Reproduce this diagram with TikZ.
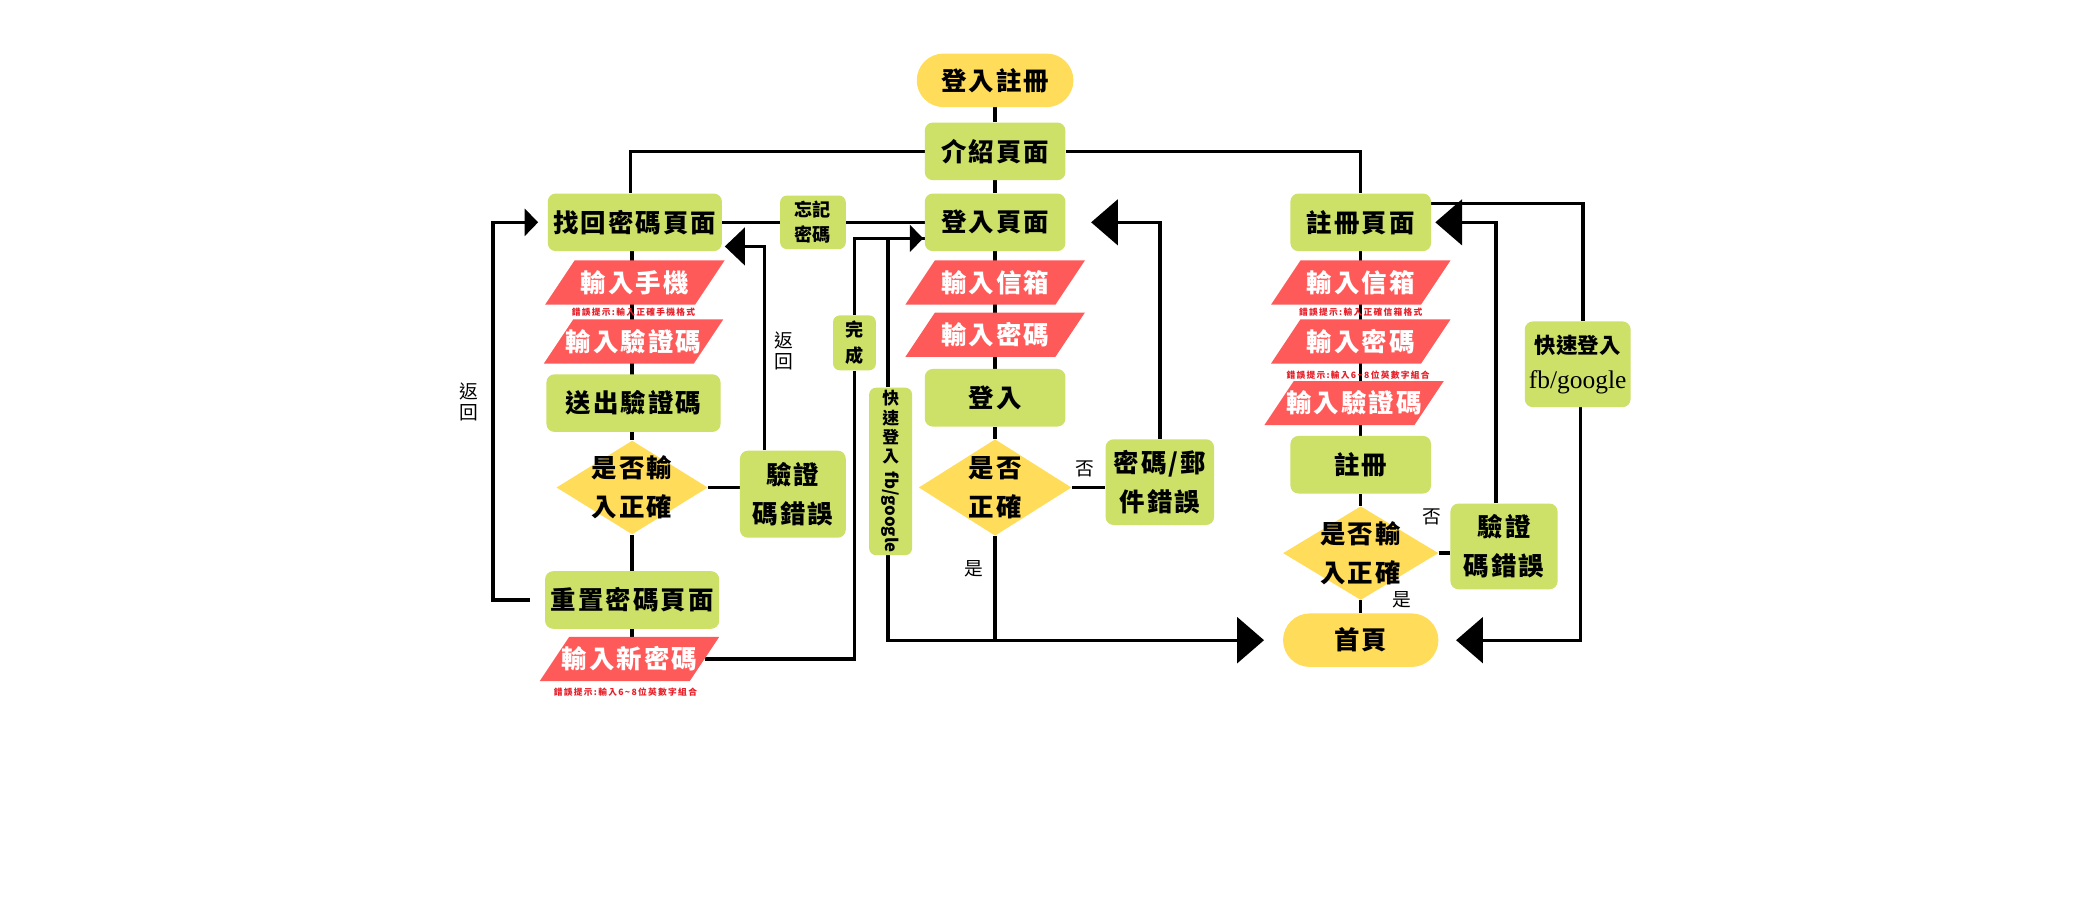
\documentclass[tikz,border=0pt]{standalone}
\usepackage{fontspec}
\usepackage{graphicx}
\usetikzlibrary{arrows.meta,shapes.geometric,backgrounds}
\newfontfamily\cjk{Noto Sans CJK TC}[LetterSpace=8]
\newfontfamily\cjksm{Noto Sans CJK TC}[LetterSpace=15]
\newfontfamily\cjkplain{Noto Sans CJK TC}
\newfontfamily\latserif{Liberation Serif}
\definecolor{boxgreen}{RGB}{205,225,105}
\definecolor{parared}{RGB}{255,90,90}
\definecolor{pillyellow}{RGB}{255,221,90}
\definecolor{hintred}{RGB}{232,30,40}
\newcommand\paranode[4]{%
  \fill[parared] ({#2-67},{#3+16.5}) -- ({#2+45},{#3+16.5}) -- ({#2+67},{#3-16.5}) -- ({#2-45},{#3-16.5}) -- cycle;
  \node[paratext] (#1) at (#2,#3) {#4};}
\tikzset{
  bigfont/.style={font=\cjk\bfseries\fontsize{19pt}{29pt}\selectfont},
  gbox/.style={rectangle, rounded corners=6pt, fill=boxgreen, minimum width=105pt, minimum height=43pt, inner sep=0pt, align=center, bigfont},
  pill/.style={rectangle, rounded corners=20pt, fill=pillyellow, minimum width=117pt, minimum height=40pt, inner sep=0pt, bigfont},
  paratext/.style={rectangle, minimum width=112pt, minimum height=33pt, inner sep=0pt, text=white, bigfont},
  dia/.style={diamond, fill=pillyellow, minimum width=114pt, minimum height=72pt, inner sep=0pt},
  dtext/.style={align=center, inner sep=0pt, bigfont},
  hint/.style={text=hintred, inner sep=0pt, font=\cjksm\bfseries\fontsize{6.5pt}{8pt}\selectfont},
  lbl/.style={inner sep=0pt, align=center, font=\cjkplain\fontsize{14pt}{16pt}\selectfont},
  smallbox/.style={gbox, rounded corners=5pt, font=\cjkplain\bfseries\fontsize{13.5pt}{19pt}\selectfont},
  conn/.style={line width=2.5pt, draw=black},
  bigarr/.style={conn, -{Triangle[length=20pt,width=34pt]}},
  medarr/.style={conn, -{Triangle[length=15pt,width=28pt]}},
  smallarr/.style={conn, -{Triangle[length=10pt,width=20pt]}},
}
\begin{document}
\begin{tikzpicture}[x=1pt,y=-1pt]
\useasboundingbox (0,0) rectangle (1568,672);
\begin{pgfonlayer}{background}
\fill[white] (0,0) rectangle (1568,672);
\end{pgfonlayer}

% centre column
\node[pill] (reg) at (743,60) {登入註冊};
\node[gbox] (intro) at (743,113) {介紹頁面};
\node[gbox] (login) at (743,166) {登入頁面};
\paranode{lmail}{743}{211}{輸入信箱}
\paranode{lpw}{743}{250}{輸入密碼}
\node[gbox] (loginbtn) at (743,297) {登入};
\node[dia, label={[dtext]center:是否\\正確}] (dia1) at (743,364) {};
\node[gbox, minimum width=81pt, minimum height=64pt] (pwerr) at (866,360) {密碼/郵\\件錯誤};
\node[lbl] (no1) at (810,350) {否};
\node[lbl] (yes1) at (727,425) {是};

% left column
\node[gbox, minimum width=130pt] (findpw) at (474,166) {找回密碼頁面};
\node[smallbox, minimum width=49pt, minimum height=40pt] (forget) at (607,166) {忘記\\密碼};
\paranode{phone}{474}{211}{輸入手機}
\node[hint] (h1) at (473,233) {錯誤提示:輸入正確手機格式};
\paranode{vcode}{473}{255}{輸入驗證碼}
\node[gbox, minimum width=130pt] (send) at (473,301) {送出驗證碼};
\node[dia, minimum width=113pt, minimum height=70pt, label={[dtext]center:是否輸\\入正確}] (dia2) at (472,364) {};
\node[gbox, minimum width=79pt, minimum height=65pt] (vcerr1) at (592,369) {驗證\\碼錯誤};
\node[gbox, minimum width=130pt] (reset) at (472,448) {重置密碼頁面};
\paranode{newpw}{470}{492}{輸入新密碼}
\node[hint] (h2) at (467,517) {錯誤提示:輸入6\string~8位英數字組合};
\node[lbl] (back1) at (585,262) {返\\回};
\node[lbl] (back2) at (350,300) {返\\回};
\coordinate (lb) at (368,300);

% middle vertical boxes
\node[smallbox, minimum width=32pt, minimum height=41pt] (done) at (638,256) {完\\成};
\node[gbox, rounded corners=5pt, minimum width=32pt, minimum height=125pt, font=\cjkplain\bfseries\fontsize{12.5pt}{14.5pt}\selectfont] (quick1) at (665,352) {快\\速\\登\\入\\[-8pt]\rotatebox{-90}{fb/google}};

% right column
\node[gbox] (regpage) at (1016,166) {註冊頁面};
\paranode{rmail}{1016}{211}{輸入信箱}
\node[hint] (h3) at (1016,233) {錯誤提示:輸入正確信箱格式};
\paranode{rpw}{1016}{255}{輸入密碼}
\node[hint] (h4) at (1014,280) {錯誤提示:輸入6\string~8位英數字組合};
\paranode{rcode}{1011}{301}{輸入驗證碼}
\node[gbox] (regbtn) at (1016,347) {註冊};
\node[dia, minimum width=116pt, minimum height=70pt, label={[dtext]center:是否輸\\入正確}] (dia3) at (1016,413) {};
\node[gbox, minimum width=80pt, minimum height=64pt] (vcerr2) at (1123,408) {驗證\\碼錯誤};
\node[lbl] (no3) at (1069,386) {否};
\node[lbl] (yes3) at (1047,448) {是};
\node[pill, minimum width=116pt] (home) at (1016,478) {首頁};
\node[gbox, minimum width=79pt, minimum height=64pt, font=\cjkplain\bfseries\fontsize{16pt}{26pt}\selectfont] (quick2) at (1178,272) {快速登入\\{\latserif\mdseries\fontsize{19pt}{26pt}\selectfont fb/google}};

\begin{pgfonlayer}{background}
\draw[conn] (reg.south) -- (intro.north);
\draw[conn] (intro.west) -| ([xshift=-3pt]findpw.north);
\draw[conn] (intro.east) -| (regpage.north);
\draw[conn] (intro.south) -- (login.north);
\draw[conn] (findpw.east) -- (forget.west);
\draw[conn] (forget.east) -- (login.west);
\draw[conn] (login.south) -- (loginbtn.north);
\draw[conn] (loginbtn.south) -- (dia1.north);
\draw[conn] (dia1.east) -- (dia1.east -| pwerr.west);
\draw[bigarr] (pwerr.north) |- ([xshift=19pt]login.east);
\draw[conn] (dia1.south) -- (dia1.south |- home.west);
\draw[bigarr] ([xshift=-2pt]quick1.south) |- ([xshift=-14pt]home.west);
\draw[conn] ([xshift=-2pt]quick1.north) |- ([yshift=-12pt]login.west);
\draw[conn] (newpw.east) -| (done.south);
\draw[smallarr] (done.north) |- ([yshift=-12pt,xshift=-1pt]login.west);

\draw[conn] ([xshift=-2pt]findpw.south) -- (dia2.north);
\draw[conn] (dia2.south) -- (reset.north);
\draw[conn] (reset.south) -- (reset.south |- newpw.north);
\draw[conn] (dia2.east) -- (dia2.east -| vcerr1.west);
\draw[medarr] ([xshift=-21pt]vcerr1.north) |- ([yshift=-18pt,xshift=2pt]findpw.east);
\draw[smallarr] ([xshift=-11pt]reset.west) -| (lb) |- ([xshift=-7pt]findpw.west);

\draw[conn] (regpage.south) -- (regbtn.north);
\draw[conn] (regbtn.south) -- (dia3.north);
\draw[conn] (dia3.south) -- (home.north);
\draw[conn] (dia3.east) -- (dia3.east -| vcerr2.west);
\draw[bigarr] ([xshift=-6pt]vcerr2.north) |- ([xshift=3pt]regpage.east);
\draw[conn] ([yshift=14pt]regpage.east) -| ([xshift=4pt]quick2.north);
\draw[bigarr] ([xshift=2pt]quick2.south) |- ([xshift=13pt]home.east);
\end{pgfonlayer}
\end{tikzpicture}
\end{document}
